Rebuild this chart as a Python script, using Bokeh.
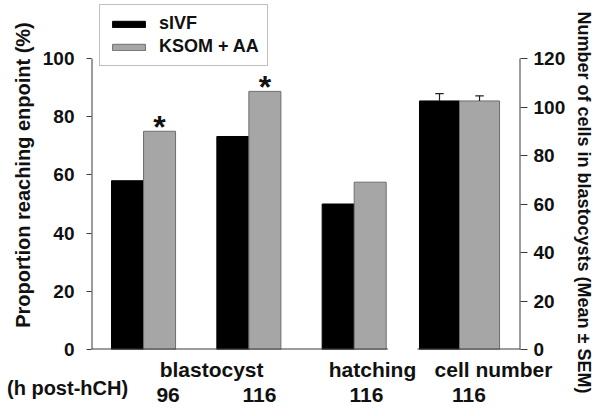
from bokeh.plotting import figure
from bokeh.models import (Range1d, LinearAxis, FixedTicker, Legend, LegendItem,
                          ColumnDataSource)
from bokeh.embed import file_html
from bokeh.resources import INLINE
from bokeh.core.properties import value

# ---------------- data ----------------
series = ["sIVF", "KSOM + AA"]
stage_labels = ["blastocyst", "hatching", "cell number"]
hour_title = "(h post-hCH)"
hour_labels = ["96", "116", "116", "116"]
sivf_pct = [58.0, 73.2, 50.0]          # proportion reaching endpoint (%)
ksom_pct = [75.0, 88.7, 57.5]
significant = [True, True, False]
sivf_cells = [102.5]                   # number of cells (mean)
ksom_cells = [102.5]
sivf_sem = [3.0]
ksom_sem = [2.1]
left_ticks = [0, 20, 40, 60, 80, 100]
right_ticks = [0, 20, 40, 60, 80, 100, 120]
left_title = "Proportion reaching enpoint (%)"
right_title = "Number of cells in blastocysts (Mean \u00b1 SEM)"

FONT = "Liberation Sans"
BLACK = "#000000"
GRAY = "#a6a6a6"
GRAY_LINE = "#6e6e6e"
AXIS_COL = "#3a3a3a"
TXT = "#111111"
NBSP = "\u00a0"

pct_groups = list(range(len(sivf_pct)))
cell_groups = [len(sivf_pct)]
W_PCT = 0.304
W_CELL = 0.38

X0, X1 = -0.494, 3.579
FRAME_H = 349
PX = 291 / 100.0                  # px per percentage unit
Y_TOP = FRAME_H / PX              # frame reaches above 100 to host legend
CELL_TOP = Y_TOP * 1.2

p = figure(width=600, height=414, output_backend="svg", toolbar_location=None,
           x_range=Range1d(X0, X1), y_range=Range1d(0, Y_TOP),
           x_axis_location=None, min_border_left=91, min_border_right=80,
           min_border_top=0, min_border_bottom=65)
p.extra_y_ranges = {"cells": Range1d(0, CELL_TOP)}
p.grid.visible = False
p.outline_line_color = None

# percentage bars
src_b = ColumnDataSource(dict(x=[g - W_PCT / 2 for g in pct_groups], top=sivf_pct))
src_g = ColumnDataSource(dict(x=[g + W_PCT / 2 for g in pct_groups], top=ksom_pct))
rb = p.vbar(x="x", top="top", bottom=0, width=W_PCT, source=src_b,
            fill_color=BLACK, line_color=BLACK)
rg = p.vbar(x="x", top="top", bottom=0, width=W_PCT, source=src_g,
            fill_color=GRAY, line_color=GRAY_LINE)

# cell number bars
cb_x = [g - W_CELL / 2 for g in cell_groups]
cg_x = [g + W_CELL / 2 for g in cell_groups]
p.vbar(x=cb_x, top=sivf_cells, bottom=0, width=W_CELL, y_range_name="cells",
       fill_color=BLACK, line_color=BLACK)
p.vbar(x=cg_x, top=ksom_cells, bottom=0, width=W_CELL, y_range_name="cells",
       fill_color=GRAY, line_color=GRAY_LINE)

# error bars (upper only)
CAP = 0.04
ex = cb_x + cg_x
ey0 = sivf_cells + ksom_cells
ey1 = [m + s for m, s in zip(sivf_cells + ksom_cells, sivf_sem + ksom_sem)]
p.segment(x0=ex, y0=ey0, x1=ex, y1=ey1, y_range_name="cells",
          line_color="#222222", line_width=1.2)
p.segment(x0=[x - CAP for x in ex], y0=ey1, x1=[x + CAP for x in ex], y1=ey1,
          y_range_name="cells", line_color="#222222", line_width=1.2)

# baselines (gap between the two panels) and axis lines
p.segment(x0=[X0, 2.60], y0=[0, 0], x1=[2.32, X1], y1=[0, 0],
          line_color=AXIS_COL, line_width=2)
p.segment(x0=[X0], y0=[0], x1=[X0], y1=[left_ticks[-1]],
          line_color=AXIS_COL, line_width=2)
p.segment(x0=[X1], y0=[0], x1=[X1], y1=[right_ticks[-1]], y_range_name="cells",
          line_color=AXIS_COL, line_width=2)

# asterisks
ax = [g + W_PCT / 2 for g, s in zip(pct_groups, significant) if s]
ay = [v + 4 / PX for v, s in zip(ksom_pct, significant) if s]
p.text(x=ax, y=ay, text=["*"] * len(ax), text_font=value(FONT),
       text_font_style="bold", text_font_size="32px", text_align="center",
       text_baseline="alphabetic", text_color=TXT)

def style_text(axis, size):
    axis.major_label_text_font = FONT
    axis.major_label_text_font_style = "bold"
    axis.major_label_text_font_size = size
    axis.major_label_text_color = TXT
    axis.minor_tick_line_color = None
    axis.major_tick_in = 0

def style_title(axis, size):
    axis.axis_label_text_font = FONT
    axis.axis_label_text_font_style = "bold"
    axis.axis_label_text_font_size = size
    axis.axis_label_text_color = TXT

# left axis
yl = p.yaxis[0]
yl.ticker = FixedTicker(ticks=left_ticks)
yl.axis_label = left_title
style_title(yl, "20px")
yl.axis_label_standoff = 6
style_text(yl, "19px")
yl.major_label_standoff = 12
yl.major_tick_out = 5
yl.axis_line_color = None
yl.major_tick_line_color = AXIS_COL

# right axis (title padded at its top end so the visible text sits lower)
yr = LinearAxis(y_range_name="cells", ticker=FixedTicker(ticks=right_ticks))
yr.axis_label = NBSP * 11 + right_title
style_title(yr, "18px")
yr.axis_label_standoff = 6
style_text(yr, "19px")
yr.major_label_standoff = 6
yr.major_tick_out = 7
yr.axis_line_color = None
yr.major_tick_line_color = AXIS_COL
p.add_layout(yr, "right")

def bottom_axis(ticks, labels, size, standoff):
    a = LinearAxis(ticker=FixedTicker(ticks=ticks),
                   major_label_overrides={t: s for t, s in zip(ticks, labels)})
    style_text(a, size)
    a.major_tick_out = 0
    a.major_tick_line_color = None
    a.axis_line_color = None
    a.major_label_standoff = standoff
    p.add_layout(a, "below")
    return a

# stage names
stage_x = [0.646, 2.174, 3.323]
bottom_axis(stage_x, stage_labels, "21px", 8)
# "(h post-hCH)" row label (padded so that its visible text starts near the left edge)
bottom_axis([-0.484], [hour_title + NBSP * 9], "20px", -7)
# hours
hour_x = [0.233, 1.101, 2.117, 3.090]
bottom_axis(hour_x, hour_labels, "21px", -14)

# legend
legend = Legend(items=[LegendItem(label=series[0], renderers=[rb]),
                       LegendItem(label=series[1], renderers=[rg])],
                location=(8, FRAME_H - 66), orientation="vertical",
                label_text_font=FONT, label_text_font_style="bold",
                label_text_font_size="18px", label_text_color=TXT,
                glyph_width=41, glyph_height=8, label_standoff=10,
                label_height=20, spacing=2, padding=8, margin=0,
                border_line_color="#808080", border_line_width=1,
                background_fill_color="white", background_fill_alpha=1.0)
p.add_layout(legend, "center")

open("out.html", "w").write(file_html(p, INLINE))
